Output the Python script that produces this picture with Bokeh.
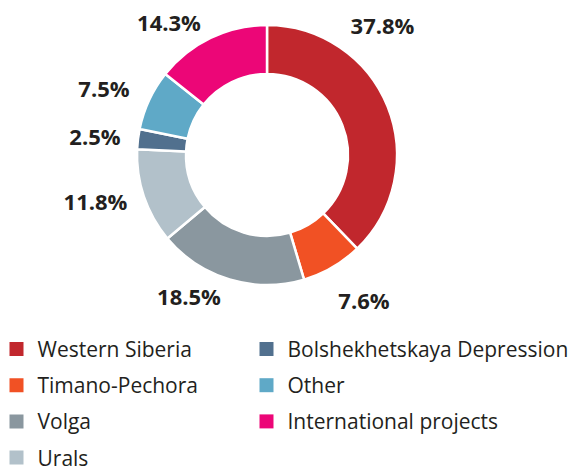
import math
from bokeh.plotting import figure
from bokeh.models import Range1d, ColumnDataSource
from bokeh.core.properties import value
from bokeh.embed import file_html
from bokeh.resources import INLINE

# ---- data ----
regions = ["Western Siberia", "Timano-Pechora", "Volga", "Urals",
           "Bolshekhetskaya Depression", "Other", "International projects"]
shares = [37.8, 7.6, 18.5, 11.8, 2.5, 7.5, 14.3]
colors = ["#C1272D", "#F15124", "#8A979F", "#B2C1CA", "#51708E", "#5FA9C7", "#EC0677"]
labels = ["37.8%", "7.6%", "18.5%", "11.8%", "2.5%", "7.5%", "14.3%"]

# ---- layout (pixel-like data units, y downward negated) ----
W, H = 573, 472
cx, cy = 266.5, -154.5
r_out, r_in = 130, 81
# label anchor offsets relative to centre (layout, not data)
label_offsets = [(115.5, 130), (97, -145), (-78, -141), (-171.5, -46),
                 (-172, 19), (-163, 67), (-98, 133.5)]

p = figure(width=W, height=H, output_backend="svg", toolbar_location=None,
           x_range=Range1d(0, W), y_range=Range1d(-H, 0),
           min_border=0)
p.axis.visible = False
p.grid.visible = False
p.outline_line_color = None
p.background_fill_color = "white"
p.border_fill_color = "white"

total = sum(shares)
starts, ends = [], []
acc = 0.0
for s in shares:
    th1 = acc / total * 2 * math.pi
    acc += s
    th2 = acc / total * 2 * math.pi
    starts.append(math.pi / 2 - th2)
    ends.append(math.pi / 2 - th1)

src = ColumnDataSource(dict(start=starts, end=ends, color=colors))
p.annular_wedge(x=cx, y=cy, inner_radius=r_in, outer_radius=r_out,
                start_angle="start", end_angle="end", direction="anticlock",
                fill_color="color", line_color="white", line_width=2.5,
                source=src)

lx = [cx + dx for dx, dy in label_offsets]
ly = [cy + dy for dx, dy in label_offsets]
p.text(x=lx, y=ly, text=labels, text_align="center", text_baseline="middle",
       text_font=value("Open Sans"), text_font_style="bold",
       text_font_size="22px", text_color="#231F20")

# legend
col_x = [16, 266]
row_y0, row_dy = -348.5, -36.2
sq_x, sq_y, tx, ty = [], [], [], []
for i, name in enumerate(regions):
    col, row = divmod(i, 4)
    sq_x.append(col_x[col])
    sq_y.append(row_y0 + row * row_dy)
    tx.append(col_x[col] + 21)
    ty.append(row_y0 + row * row_dy)
p.rect(x=sq_x, y=sq_y, width=14, height=14, fill_color=colors, line_color=None)
p.text(x=tx, y=ty, text=regions, text_align="left", text_baseline="middle",
       text_font=value("Open Sans"), text_font_size="21px", text_color="#231F20")

open("out.html", "w").write(file_html(p, INLINE))
